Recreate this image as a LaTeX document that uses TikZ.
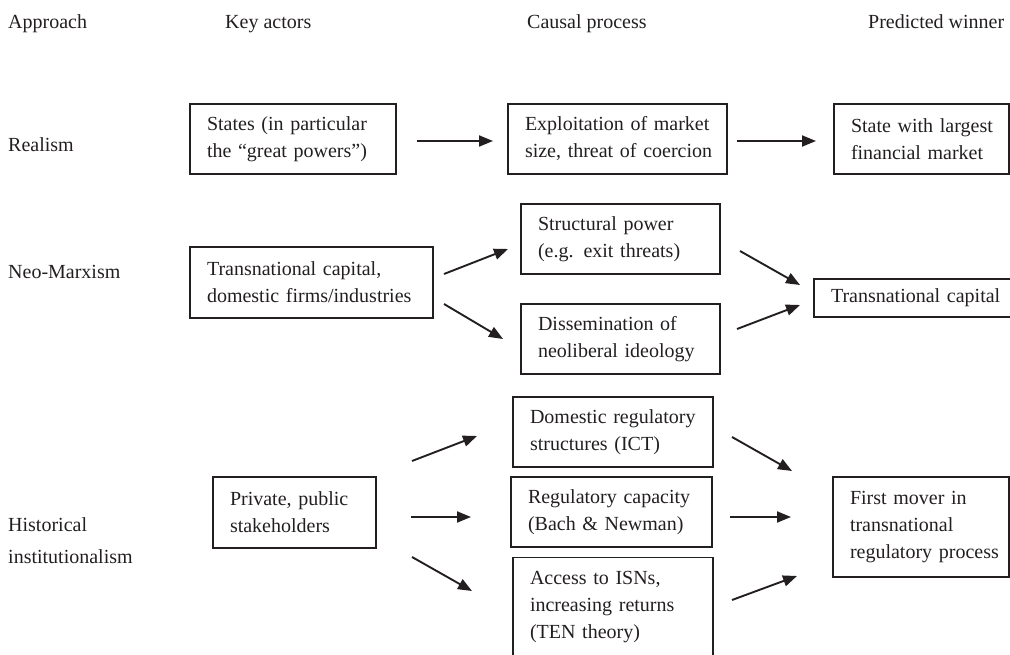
\documentclass[tikz,border=0pt]{standalone}
\usepackage{fontspec}
\setmainfont{Liberation Serif}
\usetikzlibrary{arrows.meta}
\definecolor{ink}{HTML}{231F20}
\begin{document}
\begin{tikzpicture}[x=1pt,y=1pt,
  every node/.style={font=\fontsize{20}{27}\selectfont, text=ink},
  box/.style={draw=ink, line width=1.2pt, inner xsep=17pt, inner ysep=0pt, align=left},
  lbl/.style={anchor=base west, inner sep=0pt, align=left},
  arr/.style={draw=ink, line width=1.9pt, -{Triangle[length=14pt,width=11pt]}}]
\useasboundingbox (0,0) rectangle (1010,654);
\clip (0,0) rectangle (1010,654);
% headers
\node[lbl] (hA) at (8,625.5) {Approach};
\node[lbl] (hK) at (225,625.5) {Key actors};
\node[lbl] (hC) at (527,625.5) {Causal process};
\node[lbl] (hP) at (868,625.5) {Predicted winner};
% row labels
\node[lbl] (rR) at (8,502.5) {Realism};
\node[lbl] (rN) at (8,375.5) {Neo-Marxism};
\node[lbl] (rH) at (8,91) {Historical\\[5pt]institutionalism};
% Realism
\node[box, text width=172pt, minimum width=206pt, minimum height=70pt] (states) at (293,515)
  {\mbox{States (in particular}\\\mbox{the “great powers”)}};
\node[box, text width=185pt, minimum width=219pt, minimum height=70pt] (exploit) at (617.5,515)
  {\mbox{Exploitation of market}\\\mbox{size, threat of coercion}};
\node[box, text width=141pt, minimum width=175pt, minimum height=70pt] (largest) at (921.5,515)
  {\mbox{State with largest}\\\mbox{financial market}};
% Neo-Marxism
\node[box, text width=209pt, minimum width=243pt, minimum height=71pt] (tcap) at (311.5,371.5)
  {\mbox{Transnational capital,}\\\mbox{domestic firms/industries}};
\node[box, text width=165pt, minimum width=199pt, minimum height=70pt] (struct) at (620.5,415)
  {\mbox{Structural power}\\\mbox{(e.g. exit threats)}};
\node[box, text width=165pt, minimum width=199pt, minimum height=70pt] (dissem) at (620.5,315)
  {\mbox{Dissemination of}\\\mbox{neoliberal ideology}};
\node[box, text width=206pt, minimum width=240pt, minimum height=38pt] (tcapR) at (934,356)
  {\mbox{Transnational capital}};
% Historical institutionalism
\node[box, text width=129pt, minimum width=163pt, minimum height=71pt] (private) at (294.5,141.5)
  {\mbox{Private, public}\\\mbox{stakeholders}};
\node[box, text width=166pt, minimum width=200pt, minimum height=70pt] (domestic) at (613,222)
  {\mbox{Domestic regulatory}\\\mbox{structures (ICT)}};
\node[box, text width=167pt, minimum width=201pt, minimum height=70pt] (regcap) at (611.5,142)
  {\mbox{Regulatory capacity}\\\mbox{(Bach \& Newman)}};
\node[box, anchor=north, text width=166pt, minimum width=200pt, minimum height=110pt, text depth=70pt] (access) at (613,97)
  {\mbox{Access to ISNs,}\\\mbox{increasing returns}\\\mbox{(TEN theory)}};
\node[box, text width=142pt, minimum width=176pt, minimum height=100pt] (first) at (921,127)
  {\mbox{First mover in}\\\mbox{transnational}\\\mbox{regulatory process}};
% arrows
\draw[arr] ([shift={(124,-2)}]states.center) -- ([shift={(-124.5,-2)}]exploit.center);
\draw[arr] ([shift={(119.5,-2)}]exploit.center) -- ([shift={(-105.5,-2)}]largest.center);
\draw[arr] ([shift={(132.5,8.5)}]tcap.center) -- ([shift={(-112.5,-10)}]struct.center);
\draw[arr] ([shift={(132.5,-21.5)}]tcap.center) -- ([shift={(-117.5,0)}]dissem.center);
\draw[arr] ([shift={(119.5,-12)}]struct.center) -- ([shift={(-134,13)}]tcapR.center);
\draw[arr] ([shift={(116.5,10)}]dissem.center) -- ([shift={(-134,-7)}]tcapR.center);
\draw[arr] ([shift={(117.5,51.5)}]private.center) -- ([shift={(-136,-4)}]domestic.center);
\draw[arr] ([shift={(116.5,-4.5)}]private.center) -- ([shift={(-140.5,-5)}]regcap.center);
\draw[arr] ([shift={(117.5,-44.5)}]private.center) -- ([shift={(-141,-34)}]access.north);
\draw[arr] ([shift={(119,-5)}]domestic.center) -- ([shift={(-129,56)}]first.center);
\draw[arr] ([shift={(118.5,-5)}]regcap.center) -- ([shift={(-130,10)}]first.center);
\draw[arr] ([shift={(119,-43)}]access.north) -- ([shift={(-124,-49)}]first.center);
\end{tikzpicture}
\end{document}
